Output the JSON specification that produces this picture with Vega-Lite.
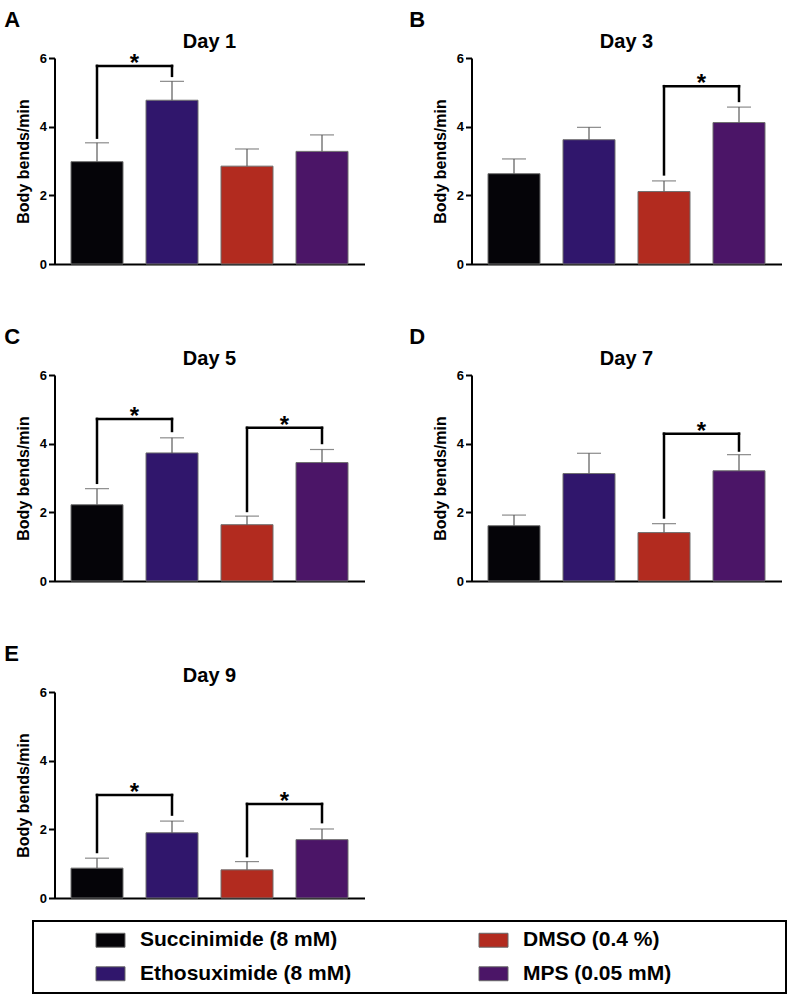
{
  "$schema": "https://vega.github.io/schema/vega-lite/v6.json",
  "padding": {"left": 4, "top": 8, "right": 0, "bottom": 0},
  "background": "white",
  "config": {
    "font": "Liberation Sans",
    "view": {"stroke": null},
    "axis": {"grid": false, "domainColor": "black", "tickColor": "black", "labelFont": "Liberation Sans", "labelFontWeight": "bold", "labelColor": "black", "titleColor": "black", "titleFont": "Liberation Sans", "titleFontWeight": "bold"},
    "axisY": {"domainWidth": 2, "tickWidth": 2, "tickSize": 6, "labelFontSize": 13, "labelPadding": 2, "titleFontSize": 16, "titlePadding": 8},
    "axisX": {"domainWidth": 2},
    "title": {"font": "Liberation Sans", "fontWeight": "bold", "color": "black"}
  },
  "datasets": {
    "bars": [
      {"day": "Day 1", "group": "Succinimide (8 mM)", "pos": 1, "mean": 2.98, "upper": 3.53},
      {"day": "Day 1", "group": "Ethosuximide (8 mM)", "pos": 2, "mean": 4.77, "upper": 5.32},
      {"day": "Day 1", "group": "DMSO (0.4 %)", "pos": 3, "mean": 2.85, "upper": 3.35},
      {"day": "Day 1", "group": "MPS (0.05 mM)", "pos": 4, "mean": 3.28, "upper": 3.76},
      {"day": "Day 3", "group": "Succinimide (8 mM)", "pos": 1, "mean": 2.63, "upper": 3.06},
      {"day": "Day 3", "group": "Ethosuximide (8 mM)", "pos": 2, "mean": 3.62, "upper": 3.98},
      {"day": "Day 3", "group": "DMSO (0.4 %)", "pos": 3, "mean": 2.11, "upper": 2.42},
      {"day": "Day 3", "group": "MPS (0.05 mM)", "pos": 4, "mean": 4.12, "upper": 4.57},
      {"day": "Day 5", "group": "Succinimide (8 mM)", "pos": 1, "mean": 2.22, "upper": 2.69},
      {"day": "Day 5", "group": "Ethosuximide (8 mM)", "pos": 2, "mean": 3.73, "upper": 4.17},
      {"day": "Day 5", "group": "DMSO (0.4 %)", "pos": 3, "mean": 1.64, "upper": 1.89},
      {"day": "Day 5", "group": "MPS (0.05 mM)", "pos": 4, "mean": 3.45, "upper": 3.83},
      {"day": "Day 7", "group": "Succinimide (8 mM)", "pos": 1, "mean": 1.61, "upper": 1.92},
      {"day": "Day 7", "group": "Ethosuximide (8 mM)", "pos": 2, "mean": 3.13, "upper": 3.72},
      {"day": "Day 7", "group": "DMSO (0.4 %)", "pos": 3, "mean": 1.41, "upper": 1.67},
      {"day": "Day 7", "group": "MPS (0.05 mM)", "pos": 4, "mean": 3.21, "upper": 3.68},
      {"day": "Day 9", "group": "Succinimide (8 mM)", "pos": 1, "mean": 0.87, "upper": 1.16},
      {"day": "Day 9", "group": "Ethosuximide (8 mM)", "pos": 2, "mean": 1.90, "upper": 2.24},
      {"day": "Day 9", "group": "DMSO (0.4 %)", "pos": 3, "mean": 0.82, "upper": 1.06},
      {"day": "Day 9", "group": "MPS (0.05 mM)", "pos": 4, "mean": 1.70, "upper": 2.01}
    ],
    "brackets": [
      {"day": "Day 1", "x1": 1, "x2": 2, "xm": 1.5, "top": 5.77, "lb": 3.68, "rb": 5.48},
      {"day": "Day 3", "x1": 3, "x2": 4, "xm": 3.5, "top": 5.18, "lb": 2.61, "rb": 4.75},
      {"day": "Day 5", "x1": 1, "x2": 2, "xm": 1.5, "top": 4.72, "lb": 2.86, "rb": 4.37},
      {"day": "Day 5", "x1": 3, "x2": 4, "xm": 3.5, "top": 4.46, "lb": 2.04, "rb": 4.02},
      {"day": "Day 7", "x1": 3, "x2": 4, "xm": 3.5, "top": 4.29, "lb": 1.85, "rb": 3.80},
      {"day": "Day 9", "x1": 1, "x2": 2, "xm": 1.5, "top": 3.00, "lb": 1.34, "rb": 2.43},
      {"day": "Day 9", "x1": 3, "x2": 4, "xm": 3.5, "top": 2.74, "lb": 1.22, "rb": 2.21}
    ],
    "legend": [
      {"group": "Succinimide (8 mM)", "col": "a", "row": "r1"},
      {"group": "Ethosuximide (8 mM)", "col": "a", "row": "r2"},
      {"group": "DMSO (0.4 %)", "col": "b", "row": "r1"},
      {"group": "MPS (0.05 mM)", "col": "b", "row": "r2"}
    ]
  },
  "vconcat": [
    {
      "spacing": 55,
      "vconcat": [
        {
          "spacing": 44,
          "hconcat": [
            {
              "title": {"text": "A", "anchor": "start", "frame": "bounds", "fontSize": 22, "offset": 0, "dx": -11},
              "vconcat": [{
                "width": 310, "height": 206,
                "title": {"text": "Day 1", "fontSize": 20, "frame": "group", "anchor": "middle", "offset": 0},
                "layer": [
                  {"data": {"name": "bars"}, "transform": [{"filter": "datum.day === 'Day 1'"}], "mark": {"type": "bar", "width": 52, "stroke": "#6f6f6f", "strokeWidth": 1},
                   "encoding": {"x": {"field": "pos", "type": "quantitative", "title": null, "scale": {"domain": [0.5, 4.5], "nice": false, "zero": false}, "axis": {"labels": false, "ticks": false}},
                                "y": {"field": "mean", "type": "quantitative", "title": "Body bends/min", "stack": null, "scale": {"domain": [0, 6], "nice": false}, "axis": {"values": [0, 2, 4, 6]}},
                                "color": {"field": "group", "type": "nominal", "legend": null, "scale": {"domain": ["Succinimide (8 mM)", "Ethosuximide (8 mM)", "DMSO (0.4 %)", "MPS (0.05 mM)"], "range": ["#050408", "#30166c", "#b22b1f", "#4b1567"]}}}},
                  {"data": {"name": "bars"}, "transform": [{"filter": "datum.day === 'Day 1'"}], "mark": {"type": "rule", "color": "#5a5a5a", "strokeWidth": 1.2},
                   "encoding": {"x": {"field": "pos", "type": "quantitative", "title": null}, "y": {"field": "mean", "type": "quantitative", "title": "Body bends/min"}, "y2": {"field": "upper"}}},
                  {"data": {"name": "bars"}, "transform": [{"filter": "datum.day === 'Day 1'"}], "mark": {"type": "tick", "orient": "horizontal", "size": 24, "thickness": 1.2, "color": "#5a5a5a"},
                   "encoding": {"x": {"field": "pos", "type": "quantitative", "title": null}, "y": {"field": "upper", "type": "quantitative", "title": "Body bends/min"}}},
                  {"data": {"name": "brackets"}, "transform": [{"filter": "datum.day === 'Day 1'"}], "mark": {"type": "rule", "color": "black", "strokeWidth": 2.5, "strokeCap": "square"},
                   "encoding": {"x": {"field": "x1", "type": "quantitative", "title": null}, "x2": {"field": "x2"}, "y": {"field": "top", "type": "quantitative", "title": "Body bends/min"}}},
                  {"data": {"name": "brackets"}, "transform": [{"filter": "datum.day === 'Day 1'"}], "mark": {"type": "rule", "color": "black", "strokeWidth": 2.5, "strokeCap": "square"},
                   "encoding": {"x": {"field": "x1", "type": "quantitative", "title": null}, "y": {"field": "lb", "type": "quantitative", "title": "Body bends/min"}, "y2": {"field": "top"}}},
                  {"data": {"name": "brackets"}, "transform": [{"filter": "datum.day === 'Day 1'"}], "mark": {"type": "rule", "color": "black", "strokeWidth": 2.5, "strokeCap": "square"},
                   "encoding": {"x": {"field": "x2", "type": "quantitative", "title": null}, "y": {"field": "rb", "type": "quantitative", "title": "Body bends/min"}, "y2": {"field": "top"}}},
                  {"data": {"name": "brackets"}, "transform": [{"filter": "datum.day === 'Day 1'"}], "mark": {"type": "text", "text": "*", "fontSize": 24, "fontWeight": "bold", "baseline": "alphabetic", "dy": 5, "color": "black"},
                   "encoding": {"x": {"field": "xm", "type": "quantitative", "title": null}, "y": {"field": "top", "type": "quantitative", "title": "Body bends/min"}}}
                ]
              }]
            },
            {
              "title": {"text": "B", "anchor": "start", "frame": "bounds", "fontSize": 22, "offset": 0, "dx": -23},
              "vconcat": [{
                "width": 310, "height": 206,
                "title": {"text": "Day 3", "fontSize": 20, "frame": "group", "anchor": "middle", "offset": 0},
                "layer": [
                  {"data": {"name": "bars"}, "transform": [{"filter": "datum.day === 'Day 3'"}], "mark": {"type": "bar", "width": 52, "stroke": "#6f6f6f", "strokeWidth": 1},
                   "encoding": {"x": {"field": "pos", "type": "quantitative", "title": null, "scale": {"domain": [0.5, 4.5], "nice": false, "zero": false}, "axis": {"labels": false, "ticks": false}},
                                "y": {"field": "mean", "type": "quantitative", "title": "Body bends/min", "stack": null, "scale": {"domain": [0, 6], "nice": false}, "axis": {"values": [0, 2, 4, 6]}},
                                "color": {"field": "group", "type": "nominal", "legend": null, "scale": {"domain": ["Succinimide (8 mM)", "Ethosuximide (8 mM)", "DMSO (0.4 %)", "MPS (0.05 mM)"], "range": ["#050408", "#30166c", "#b22b1f", "#4b1567"]}}}},
                  {"data": {"name": "bars"}, "transform": [{"filter": "datum.day === 'Day 3'"}], "mark": {"type": "rule", "color": "#5a5a5a", "strokeWidth": 1.2},
                   "encoding": {"x": {"field": "pos", "type": "quantitative", "title": null}, "y": {"field": "mean", "type": "quantitative", "title": "Body bends/min"}, "y2": {"field": "upper"}}},
                  {"data": {"name": "bars"}, "transform": [{"filter": "datum.day === 'Day 3'"}], "mark": {"type": "tick", "orient": "horizontal", "size": 24, "thickness": 1.2, "color": "#5a5a5a"},
                   "encoding": {"x": {"field": "pos", "type": "quantitative", "title": null}, "y": {"field": "upper", "type": "quantitative", "title": "Body bends/min"}}},
                  {"data": {"name": "brackets"}, "transform": [{"filter": "datum.day === 'Day 3'"}], "mark": {"type": "rule", "color": "black", "strokeWidth": 2.5, "strokeCap": "square"},
                   "encoding": {"x": {"field": "x1", "type": "quantitative", "title": null}, "x2": {"field": "x2"}, "y": {"field": "top", "type": "quantitative", "title": "Body bends/min"}}},
                  {"data": {"name": "brackets"}, "transform": [{"filter": "datum.day === 'Day 3'"}], "mark": {"type": "rule", "color": "black", "strokeWidth": 2.5, "strokeCap": "square"},
                   "encoding": {"x": {"field": "x1", "type": "quantitative", "title": null}, "y": {"field": "lb", "type": "quantitative", "title": "Body bends/min"}, "y2": {"field": "top"}}},
                  {"data": {"name": "brackets"}, "transform": [{"filter": "datum.day === 'Day 3'"}], "mark": {"type": "rule", "color": "black", "strokeWidth": 2.5, "strokeCap": "square"},
                   "encoding": {"x": {"field": "x2", "type": "quantitative", "title": null}, "y": {"field": "rb", "type": "quantitative", "title": "Body bends/min"}, "y2": {"field": "top"}}},
                  {"data": {"name": "brackets"}, "transform": [{"filter": "datum.day === 'Day 3'"}], "mark": {"type": "text", "text": "*", "fontSize": 24, "fontWeight": "bold", "baseline": "alphabetic", "dy": 5, "color": "black"},
                   "encoding": {"x": {"field": "xm", "type": "quantitative", "title": null}, "y": {"field": "top", "type": "quantitative", "title": "Body bends/min"}}}
                ]
              }]
            }
          ]
        },
        {
          "spacing": 44,
          "hconcat": [
            {
              "title": {"text": "C", "anchor": "start", "frame": "bounds", "fontSize": 22, "offset": 0, "dx": -11},
              "vconcat": [{
                "width": 310, "height": 206,
                "title": {"text": "Day 5", "fontSize": 20, "frame": "group", "anchor": "middle", "offset": 0},
                "layer": [
                  {"data": {"name": "bars"}, "transform": [{"filter": "datum.day === 'Day 5'"}], "mark": {"type": "bar", "width": 52, "stroke": "#6f6f6f", "strokeWidth": 1},
                   "encoding": {"x": {"field": "pos", "type": "quantitative", "title": null, "scale": {"domain": [0.5, 4.5], "nice": false, "zero": false}, "axis": {"labels": false, "ticks": false}},
                                "y": {"field": "mean", "type": "quantitative", "title": "Body bends/min", "stack": null, "scale": {"domain": [0, 6], "nice": false}, "axis": {"values": [0, 2, 4, 6]}},
                                "color": {"field": "group", "type": "nominal", "legend": null, "scale": {"domain": ["Succinimide (8 mM)", "Ethosuximide (8 mM)", "DMSO (0.4 %)", "MPS (0.05 mM)"], "range": ["#050408", "#30166c", "#b22b1f", "#4b1567"]}}}},
                  {"data": {"name": "bars"}, "transform": [{"filter": "datum.day === 'Day 5'"}], "mark": {"type": "rule", "color": "#5a5a5a", "strokeWidth": 1.2},
                   "encoding": {"x": {"field": "pos", "type": "quantitative", "title": null}, "y": {"field": "mean", "type": "quantitative", "title": "Body bends/min"}, "y2": {"field": "upper"}}},
                  {"data": {"name": "bars"}, "transform": [{"filter": "datum.day === 'Day 5'"}], "mark": {"type": "tick", "orient": "horizontal", "size": 24, "thickness": 1.2, "color": "#5a5a5a"},
                   "encoding": {"x": {"field": "pos", "type": "quantitative", "title": null}, "y": {"field": "upper", "type": "quantitative", "title": "Body bends/min"}}},
                  {"data": {"name": "brackets"}, "transform": [{"filter": "datum.day === 'Day 5'"}], "mark": {"type": "rule", "color": "black", "strokeWidth": 2.5, "strokeCap": "square"},
                   "encoding": {"x": {"field": "x1", "type": "quantitative", "title": null}, "x2": {"field": "x2"}, "y": {"field": "top", "type": "quantitative", "title": "Body bends/min"}}},
                  {"data": {"name": "brackets"}, "transform": [{"filter": "datum.day === 'Day 5'"}], "mark": {"type": "rule", "color": "black", "strokeWidth": 2.5, "strokeCap": "square"},
                   "encoding": {"x": {"field": "x1", "type": "quantitative", "title": null}, "y": {"field": "lb", "type": "quantitative", "title": "Body bends/min"}, "y2": {"field": "top"}}},
                  {"data": {"name": "brackets"}, "transform": [{"filter": "datum.day === 'Day 5'"}], "mark": {"type": "rule", "color": "black", "strokeWidth": 2.5, "strokeCap": "square"},
                   "encoding": {"x": {"field": "x2", "type": "quantitative", "title": null}, "y": {"field": "rb", "type": "quantitative", "title": "Body bends/min"}, "y2": {"field": "top"}}},
                  {"data": {"name": "brackets"}, "transform": [{"filter": "datum.day === 'Day 5'"}], "mark": {"type": "text", "text": "*", "fontSize": 24, "fontWeight": "bold", "baseline": "alphabetic", "dy": 5, "color": "black"},
                   "encoding": {"x": {"field": "xm", "type": "quantitative", "title": null}, "y": {"field": "top", "type": "quantitative", "title": "Body bends/min"}}}
                ]
              }]
            },
            {
              "title": {"text": "D", "anchor": "start", "frame": "bounds", "fontSize": 22, "offset": 0, "dx": -23},
              "vconcat": [{
                "width": 310, "height": 206,
                "title": {"text": "Day 7", "fontSize": 20, "frame": "group", "anchor": "middle", "offset": 0},
                "layer": [
                  {"data": {"name": "bars"}, "transform": [{"filter": "datum.day === 'Day 7'"}], "mark": {"type": "bar", "width": 52, "stroke": "#6f6f6f", "strokeWidth": 1},
                   "encoding": {"x": {"field": "pos", "type": "quantitative", "title": null, "scale": {"domain": [0.5, 4.5], "nice": false, "zero": false}, "axis": {"labels": false, "ticks": false}},
                                "y": {"field": "mean", "type": "quantitative", "title": "Body bends/min", "stack": null, "scale": {"domain": [0, 6], "nice": false}, "axis": {"values": [0, 2, 4, 6]}},
                                "color": {"field": "group", "type": "nominal", "legend": null, "scale": {"domain": ["Succinimide (8 mM)", "Ethosuximide (8 mM)", "DMSO (0.4 %)", "MPS (0.05 mM)"], "range": ["#050408", "#30166c", "#b22b1f", "#4b1567"]}}}},
                  {"data": {"name": "bars"}, "transform": [{"filter": "datum.day === 'Day 7'"}], "mark": {"type": "rule", "color": "#5a5a5a", "strokeWidth": 1.2},
                   "encoding": {"x": {"field": "pos", "type": "quantitative", "title": null}, "y": {"field": "mean", "type": "quantitative", "title": "Body bends/min"}, "y2": {"field": "upper"}}},
                  {"data": {"name": "bars"}, "transform": [{"filter": "datum.day === 'Day 7'"}], "mark": {"type": "tick", "orient": "horizontal", "size": 24, "thickness": 1.2, "color": "#5a5a5a"},
                   "encoding": {"x": {"field": "pos", "type": "quantitative", "title": null}, "y": {"field": "upper", "type": "quantitative", "title": "Body bends/min"}}},
                  {"data": {"name": "brackets"}, "transform": [{"filter": "datum.day === 'Day 7'"}], "mark": {"type": "rule", "color": "black", "strokeWidth": 2.5, "strokeCap": "square"},
                   "encoding": {"x": {"field": "x1", "type": "quantitative", "title": null}, "x2": {"field": "x2"}, "y": {"field": "top", "type": "quantitative", "title": "Body bends/min"}}},
                  {"data": {"name": "brackets"}, "transform": [{"filter": "datum.day === 'Day 7'"}], "mark": {"type": "rule", "color": "black", "strokeWidth": 2.5, "strokeCap": "square"},
                   "encoding": {"x": {"field": "x1", "type": "quantitative", "title": null}, "y": {"field": "lb", "type": "quantitative", "title": "Body bends/min"}, "y2": {"field": "top"}}},
                  {"data": {"name": "brackets"}, "transform": [{"filter": "datum.day === 'Day 7'"}], "mark": {"type": "rule", "color": "black", "strokeWidth": 2.5, "strokeCap": "square"},
                   "encoding": {"x": {"field": "x2", "type": "quantitative", "title": null}, "y": {"field": "rb", "type": "quantitative", "title": "Body bends/min"}, "y2": {"field": "top"}}},
                  {"data": {"name": "brackets"}, "transform": [{"filter": "datum.day === 'Day 7'"}], "mark": {"type": "text", "text": "*", "fontSize": 24, "fontWeight": "bold", "baseline": "alphabetic", "dy": 5, "color": "black"},
                   "encoding": {"x": {"field": "xm", "type": "quantitative", "title": null}, "y": {"field": "top", "type": "quantitative", "title": "Body bends/min"}}}
                ]
              }]
            }
          ]
        },
        {
          "title": {"text": "E", "anchor": "start", "frame": "bounds", "fontSize": 22, "offset": 0, "dx": -11},
          "vconcat": [{
            "width": 310, "height": 206,
            "title": {"text": "Day 9", "fontSize": 20, "frame": "group", "anchor": "middle", "offset": 0},
            "layer": [
              {"data": {"name": "bars"}, "transform": [{"filter": "datum.day === 'Day 9'"}], "mark": {"type": "bar", "width": 52, "stroke": "#6f6f6f", "strokeWidth": 1},
               "encoding": {"x": {"field": "pos", "type": "quantitative", "title": null, "scale": {"domain": [0.5, 4.5], "nice": false, "zero": false}, "axis": {"labels": false, "ticks": false}},
                            "y": {"field": "mean", "type": "quantitative", "title": "Body bends/min", "stack": null, "scale": {"domain": [0, 6], "nice": false}, "axis": {"values": [0, 2, 4, 6]}},
                            "color": {"field": "group", "type": "nominal", "legend": null, "scale": {"domain": ["Succinimide (8 mM)", "Ethosuximide (8 mM)", "DMSO (0.4 %)", "MPS (0.05 mM)"], "range": ["#050408", "#30166c", "#b22b1f", "#4b1567"]}}}},
              {"data": {"name": "bars"}, "transform": [{"filter": "datum.day === 'Day 9'"}], "mark": {"type": "rule", "color": "#5a5a5a", "strokeWidth": 1.2},
               "encoding": {"x": {"field": "pos", "type": "quantitative", "title": null}, "y": {"field": "mean", "type": "quantitative", "title": "Body bends/min"}, "y2": {"field": "upper"}}},
              {"data": {"name": "bars"}, "transform": [{"filter": "datum.day === 'Day 9'"}], "mark": {"type": "tick", "orient": "horizontal", "size": 24, "thickness": 1.2, "color": "#5a5a5a"},
               "encoding": {"x": {"field": "pos", "type": "quantitative", "title": null}, "y": {"field": "upper", "type": "quantitative", "title": "Body bends/min"}}},
              {"data": {"name": "brackets"}, "transform": [{"filter": "datum.day === 'Day 9'"}], "mark": {"type": "rule", "color": "black", "strokeWidth": 2.5, "strokeCap": "square"},
               "encoding": {"x": {"field": "x1", "type": "quantitative", "title": null}, "x2": {"field": "x2"}, "y": {"field": "top", "type": "quantitative", "title": "Body bends/min"}}},
              {"data": {"name": "brackets"}, "transform": [{"filter": "datum.day === 'Day 9'"}], "mark": {"type": "rule", "color": "black", "strokeWidth": 2.5, "strokeCap": "square"},
               "encoding": {"x": {"field": "x1", "type": "quantitative", "title": null}, "y": {"field": "lb", "type": "quantitative", "title": "Body bends/min"}, "y2": {"field": "top"}}},
              {"data": {"name": "brackets"}, "transform": [{"filter": "datum.day === 'Day 9'"}], "mark": {"type": "rule", "color": "black", "strokeWidth": 2.5, "strokeCap": "square"},
               "encoding": {"x": {"field": "x2", "type": "quantitative", "title": null}, "y": {"field": "rb", "type": "quantitative", "title": "Body bends/min"}, "y2": {"field": "top"}}},
              {"data": {"name": "brackets"}, "transform": [{"filter": "datum.day === 'Day 9'"}], "mark": {"type": "text", "text": "*", "fontSize": 24, "fontWeight": "bold", "baseline": "alphabetic", "dy": 5, "color": "black"},
               "encoding": {"x": {"field": "xm", "type": "quantitative", "title": null}, "y": {"field": "top", "type": "quantitative", "title": "Body bends/min"}}}
            ]
          }]
        }
      ]
    },
    {
      "width": 753, "height": 72,
      "view": {"stroke": "black", "strokeWidth": 2},
      "data": {"name": "legend"},
      "layer": [
        {"mark": {"type": "point", "shape": "M-1,-0.48H1V0.48H-1Z", "filled": true, "size": 841, "opacity": 1, "stroke": "#666666", "strokeWidth": 1},
         "encoding": {
           "x": {"field": "col", "type": "nominal", "bandPosition": 0.0594, "scale": {"type": "band", "paddingInner": 0.363, "paddingOuter": 0.1645}, "axis": null},
           "y": {"field": "row", "type": "nominal", "scale": {"type": "point", "padding": 0.574}, "axis": {"orient": "right", "title": null, "labels": false, "ticks": false, "domain": false, "minExtent": 16, "maxExtent": 16}},
           "color": {"field": "group", "type": "nominal", "legend": null, "scale": {"domain": ["Succinimide (8 mM)", "Ethosuximide (8 mM)", "DMSO (0.4 %)", "MPS (0.05 mM)"], "range": ["#050408", "#30166c", "#b22b1f", "#4b1567"]}}
         }},
        {"mark": {"type": "text", "align": "left", "baseline": "middle", "dx": 44, "fontSize": 21, "fontWeight": "bold", "color": "black"},
         "encoding": {
           "x": {"field": "col", "type": "nominal", "bandPosition": 0},
           "y": {"field": "row", "type": "nominal"},
           "text": {"field": "group"}
         }}
      ]
    }
  ],
  "center": true,
  "spacing": 15
}
